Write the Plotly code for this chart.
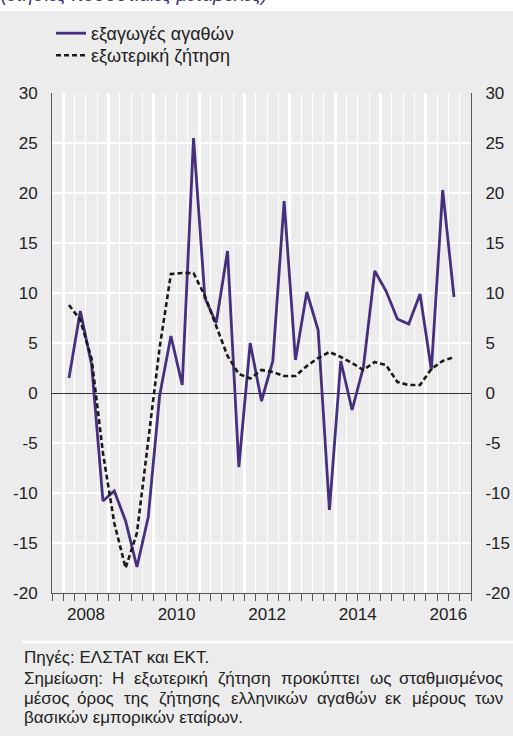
import plotly.graph_objects as go

# ---------------- data ----------------
quarters = [f"{y}Q{q}" for y in range(2008, 2017) for q in range(1, 5)][:35]

exports_goods = [1.5, 8.2, 2.8, -10.8, -9.8, -12.8, -17.4, -12.4,
                 -0.3, 5.7, 0.8, 25.5, 9.5, 7.0, 14.2, -7.4,
                 5.0, -0.8, 3.2, 19.2, 3.3, 10.1, 6.3, -11.7,
                 3.2, -1.7, 2.6, 12.2, 10.2, 7.4, 6.9, 9.9,
                 2.3, 20.3, 9.6]

foreign_demand = [8.8, 7.3, 3.4, -6.0, -13.0, -17.5, -14.0, -5.0,
                  4.5, 11.9, 12.0, 12.0, 9.7, 6.7, 3.7, 1.9,
                  1.45, 2.3, 2.1, 1.7, 1.7, 2.7, 3.5, 4.1,
                  3.6, 3.0, 2.3, 3.1, 2.8, 1.1, 0.8, 0.8,
                  2.4, 3.2, 3.6]

year_labels = ["2008", "2010", "2012", "2014", "2016"]
year_bounds = list(range(2008, 2017))
y_ticks = [-20, -15, -10, -5, 0, 5, 10, 15, 20, 25, 30]
y_tick_text = ["-20", "-15", "-10", "-5", "0", "5", "10", "15", "20", "25", "30"]

series_names = ["εξαγωγές αγαθών", "εξωτερική ζήτηση"]
subtitle = "(ετήσιες ποσοστιαίες μεταβολές)"
source_lines = [
    "Πηγές: ΕΛΣΤΑΤ και ΕΚΤ.",
    "Σημείωση: Η εξωτερική ζήτηση προκύπτει ως σταθμισμένος",
    "μέσος όρος της ζήτησης ελληνικών αγαθών εκ μέρους των",
    "βασικών εμπορικών εταίρων.",
]
justified = [False, True, True, False]

# ---------------- layout helpers ----------------
W, H = 513, 736
L, R, T, B = 52, 42, 93, 143
PW, PH = W - L - R, H - T - B


def px_x(px):
    return (px - L) / PW


def px_y(py):
    return (H - B - py) / PH


def qpos(label):
    y, q = label.split("Q")
    return int(y) + (int(q) - 0.5) / 4


xs = [qpos(q) for q in quarters]

BG = "#ececec"
PURPLE = "#46307e"
FONT = "Liberation Sans, Arial, sans-serif"
TXT = "#222222"

# rough glyph advance widths (per em) for justifying the note lines
_w = {}
for ch in "αβγδεζηθικλμνξοπρστυφχψωάέήίόύώϊϋΐΰς":
    _w[ch] = 0.55
_w.update({"ι": 0.24, "ί": 0.24, "ε": 0.46, "έ": 0.46, "τ": 0.44, "ς": 0.48,
           "ω": 0.78, "ώ": 0.78, "π": 0.69, "σ": 0.62, "μ": 0.58, "φ": 0.72,
           "ξ": 0.45, "ζ": 0.44, "γ": 0.50, "κ": 0.50, "ν": 0.50, "λ": 0.50})
for ch in "ΑΒΓΔΕΖΗΘΙΚΛΜΝΞΟΠΡΣΤΥΦΧΨΩ":
    _w[ch] = 0.68
_w.update({":": 0.28, ".": 0.28, " ": 0.28})


def text_w(s, size):
    return sum(_w.get(c, 0.55) for c in s) * size


fig = go.Figure()
fig.add_trace(go.Scatter(x=xs, y=exports_goods, mode="lines", name=series_names[0],
                         legend="legend",
                         line=dict(color=PURPLE, width=2.8)))
fig.add_trace(go.Scatter(x=xs, y=foreign_demand, mode="lines", name=series_names[1],
                         legend="legend2",
                         line=dict(color="#1a1a1a", width=2.6, dash="5px,3px")))
fig.add_trace(go.Scatter(x=[], y=[], xaxis="x2", yaxis="y2", showlegend=False,
                         hoverinfo="skip"))

legend_common = dict(xref="container", yref="container", xanchor="left",
                     yanchor="top", bgcolor="rgba(0,0,0,0)",
                     font=dict(family=FONT, size=18, color=TXT), itemwidth=30)

xr = [2007.75, 2017.0]
fig.update_layout(
    width=W, height=H,
    margin=dict(l=L, r=R, t=T, b=B, pad=0, autoexpand=False),
    paper_bgcolor=BG, plot_bgcolor=BG,
    font=dict(family=FONT, color=TXT, size=17),
    showlegend=True,
    legend=dict(x=51 / W, y=1 - 15 / H, **legend_common),
    legend2=dict(x=51 / W, y=1 - 37 / H, **legend_common),
    xaxis=dict(range=xr, tickvals=year_bounds, showticklabels=False,
               showgrid=True, gridcolor="white", gridwidth=2.5,
               ticks="outside", ticklen=7, tickcolor="#555", tickwidth=1,
               showline=True, linecolor="#555", linewidth=1,
               minor=dict(dtick=0.25, tick0=2007.75, showgrid=True,
                          gridcolor="white", gridwidth=1.3,
                          ticks="outside", ticklen=7, tickcolor="#555", tickwidth=1),
               zeroline=False, fixedrange=True, automargin=False),
    xaxis2=dict(range=xr, overlaying="x", anchor="y", side="bottom",
                tickvals=[int(y) + 0.5 for y in year_labels], ticktext=year_labels,
                showgrid=False, ticks="outside", ticklen=6,
                tickcolor="rgba(0,0,0,0)", showline=False, zeroline=False,
                automargin=False, fixedrange=True,
                tickfont=dict(family=FONT, size=17, color=TXT)),
    yaxis=dict(range=[-20, 30], tickvals=y_ticks, ticktext=y_tick_text, showgrid=True,
               gridcolor="white", gridwidth=2,
               zeroline=True, zerolinecolor="#333", zerolinewidth=1,
               showline=True, linecolor="#555", linewidth=1,
               ticks="outside", ticklen=10, tickcolor="rgba(0,0,0,0)",
               automargin=False, fixedrange=True,
               tickfont=dict(family=FONT, size=17, color=TXT)),
    yaxis2=dict(range=[-20, 30], tickvals=y_ticks, ticktext=y_tick_text,
                overlaying="y", side="right",
                anchor="x", showgrid=False, zeroline=False,
                showline=True, linecolor="#555", linewidth=1,
                ticks="outside", ticklen=10, tickcolor="rgba(0,0,0,0)",
                automargin=False, fixedrange=True,
                tickfont=dict(family=FONT, size=17, color=TXT)),
)

# white strip at the top with the clipped subtitle
fig.add_shape(type="rect", xref="paper", yref="paper",
              x0=px_x(-5), x1=px_x(W + 5), y0=px_y(11), y1=px_y(-20),
              fillcolor="white", line_width=0, layer="below")
fig.add_annotation(text=subtitle, xref="paper", yref="paper",
                   x=px_x(-1), y=px_y(-6), xanchor="left", yanchor="middle",
                   showarrow=False,
                   font=dict(family=FONT, size=19, color=PURPLE, style="italic"))

# separator line above the notes
fig.add_shape(type="line", xref="paper", yref="paper",
              x0=px_x(22), x1=px_x(W), y0=px_y(642), y1=px_y(642),
              line=dict(color="white", width=2.5))

NOTE_SIZE = 17
NOTE_LEFT, NOTE_RIGHT = 22, 505
note_y = [657, 678, 698, 717]
for txt, yy, just in zip(source_lines, note_y, justified):
    if not just:
        fig.add_annotation(text=txt, xref="paper", yref="paper",
                           x=px_x(NOTE_LEFT), y=px_y(yy), xanchor="left",
                           yanchor="middle", showarrow=False,
                           font=dict(family=FONT, size=NOTE_SIZE, color=TXT))
        continue
    words = txt.split(" ")
    widths = [text_w(wd, NOTE_SIZE) for wd in words]
    gap = (NOTE_RIGHT - NOTE_LEFT - sum(widths)) / (len(words) - 1)
    pos = NOTE_LEFT
    for i, (wd, ww) in enumerate(zip(words, widths)):
        if i == 0:
            xa, xp = "left", pos
        elif i == len(words) - 1:
            xa, xp = "right", NOTE_RIGHT
        else:
            xa, xp = "center", pos + ww / 2
        fig.add_annotation(text=wd, xref="paper", yref="paper",
                           x=px_x(xp), y=px_y(yy), xanchor=xa, yanchor="middle",
                           showarrow=False,
                           font=dict(family=FONT, size=NOTE_SIZE, color=TXT))
        pos += ww + gap

fig.write_html("out.html", config={"displayModeBar": False},
               post_script="document.body.style.margin='0';document.body.style.padding='0';")
